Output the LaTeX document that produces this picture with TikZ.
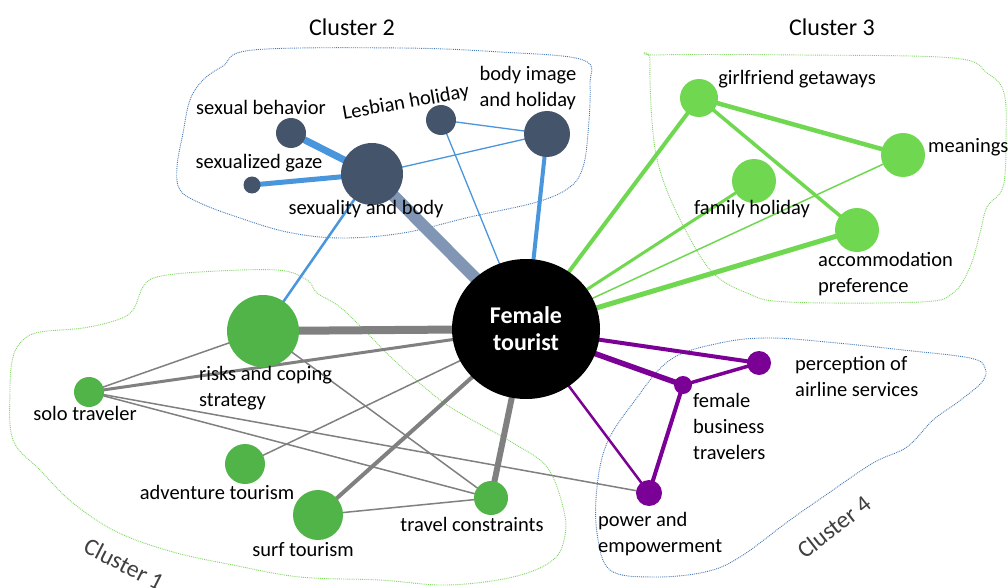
\documentclass[tikz,border=0pt]{standalone}
\usepackage{fontspec}
\setmainfont{Carlito}
\usetikzlibrary{shapes.geometric}
\definecolor{navy}{RGB}{68,84,106}
\definecolor{bluee}{RGB}{74,150,220}
\definecolor{steel}{RGB}{128,150,180}
\definecolor{lgreen}{RGB}{112,216,80}
\definecolor{dgreen}{RGB}{80,180,72}
\definecolor{greye}{RGB}{128,128,128}
\definecolor{purp}{RGB}{122,0,150}
\definecolor{outblue}{RGB}{70,120,180}
\definecolor{outgreen}{RGB}{125,215,95}
\definecolor{titlegray}{RGB}{64,64,64}
\begin{document}
\begin{tikzpicture}[x=1pt,y=-1pt,
  lbl/.style={font=\fontsize{20.5}{26}\selectfont, text=black, inner sep=0pt, align=left},
  ttl/.style={font=\fontsize{24}{28}\selectfont, text=titlegray, inner sep=0pt},
  dot/.style={circle, fill=#1, draw=none, inner sep=0pt},
  outl/.style={draw=#1, densely dotted, line width=0.9pt},
  be/.style={draw=bluee, line width=#1},
  ge/.style={draw=lgreen, line width=#1},
  pe/.style={draw=purp, line width=#1},
  ye/.style={draw=greye, line width=#1}]
\useasboundingbox (0,0) rectangle (1008,588);
\fill[white] (0,0) rectangle (1008,588);

% cluster outlines
\draw[outl=outblue] plot[smooth cycle, tension=0.6] coordinates {(253,50) (400,48) (500,52) (583,60) (590,85) (588,133) (583,167) (570,187) (537,202) (470,217) (403,233) (340,238) (287,232) (237,217) (200,203) (180,190) (177,167) (183,133) (190,100) (203,80) (223,66)};
\draw[outl=outgreen] plot[smooth cycle, tension=0.6] coordinates {(657,55) (800,55) (953,58) (987,73) (1004,93) (1006,140) (1003,187) (987,207) (980,233) (970,267) (953,293) (920,302) (787,302) (747,293) (713,273) (687,233) (663,180) (653,133) (650,60)};
\draw[outl=outgreen] plot[smooth cycle, tension=0.6] coordinates {(143,287) (157,277) (200,272) (277,270) (307,280) (317,293) (340,307) (367,333) (397,363) (440,400) (467,417) (513,443) (547,467) (563,507) (565,535) (553,560) (513,577) (447,585) (380,580) (300,577) (233,565) (173,552) (117,532) (73,503) (40,470) (13,440) (10,390) (13,357) (23,340) (40,332) (83,328) (117,320) (133,310)};
\draw[outl=outblue] plot[smooth cycle, tension=0.6] coordinates {(670,360) (720,343) (770,338) (837,343) (903,350) (970,358) (985,368) (982,382) (958,402) (933,420) (907,447) (873,463) (823,497) (790,520) (740,557) (705,572) (653,577) (610,570) (597,533) (597,487) (607,443) (633,403)};

% cluster titles
\node[ttl, text=black] (t2) at (352,27) {Cluster 2};
\node[ttl, text=black] (t3) at (832,27) {Cluster 3};
\node[ttl, rotate=-27] (t1) at (124,564) {Cluster 1};
\node[ttl, rotate=38] (t4) at (834,527) {Cluster 4};

% node positions
\coordinate (cft) at (526,329);
% cluster 2
\coordinate (c-sxb) at (372,174);
\coordinate (c-sbeh) at (291,133);
\coordinate (c-sgz) at (252,185);
\coordinate (c-lh) at (441,120);
\coordinate (c-bih) at (547,134);
% cluster 3
\coordinate (c-gg) at (699,98);
\coordinate (c-me) at (903,155);
\coordinate (c-fh) at (754,181);
\coordinate (c-ac) at (857,230);
% cluster 4
\coordinate (c-pa) at (759,363);
\coordinate (c-fb) at (683,385);
\coordinate (c-pe) at (649,493);
% cluster 1
\coordinate (c-rc) at (263,331);
\coordinate (c-st) at (89,392);
\coordinate (c-at) at (245,464);
\coordinate (c-su) at (318,515);
\coordinate (c-tc) at (491,498);

% edges: grey
\draw[ye=8] (c-rc) -- (cft);
\draw[ye=3] (c-st) -- (cft);
\draw[ye=1.5] (c-st) -- (c-rc);
\draw[ye=1.5] (c-st) -- (c-tc);
\draw[ye=1.5] (c-st) -- (c-pe);
\draw[ye=1.5] (c-rc) -- (c-tc);
\draw[ye=1.5] (c-at) -- (cft);
\draw[ye=4] (c-su) -- (cft);
\draw[ye=1.5] (c-su) -- (c-tc);
\draw[ye=6] (c-tc) -- (cft);
% blue
\draw[draw=steel, line width=12] (c-sxb) -- (cft);
\draw[be=7] (c-sbeh) -- (c-sxb);
\draw[be=5] (c-sgz) -- (c-sxb);
\draw[be=1.3] (c-sxb) -- (c-bih);
\draw[be=1.3] (c-lh) -- (c-bih);
\draw[be=1.3] (c-lh) -- (cft);
\draw[be=4] (c-bih) -- (cft);
\draw[be=2.5] (c-sxb) -- (c-rc);
% green
\draw[ge=4] (c-gg) -- (cft);
\draw[ge=4.5] (c-gg) -- (c-me);
\draw[ge=3.5] (c-gg) -- (c-ac);
\draw[ge=3] (c-fh) -- (cft);
\draw[ge=1.5] (c-me) -- (cft);
\draw[ge=5] (c-ac) -- (cft);
% purple
\draw[pe=4] (c-pa) -- (cft);
\draw[pe=5.5] (c-fb) -- (cft);
\draw[pe=3.5] (c-fb) -- (c-pa);
\draw[pe=4] (c-fb) -- (c-pe);
\draw[pe=2.5] (c-pe) -- (cft);

% nodes
\node[ellipse, fill=black, minimum width=148, minimum height=140, inner sep=0pt,
  font=\bfseries\fontsize{24}{27}\selectfont, text=white, align=center] (ft) at (cft) {Female\\tourist};
\node[dot=navy, minimum size=62] (sxb) at (c-sxb) {};
\node[dot=navy, minimum size=30] (sbeh) at (c-sbeh) {};
\node[dot=navy, minimum size=17] (sgz) at (c-sgz) {};
\node[dot=navy, minimum size=30] (lh) at (c-lh) {};
\node[dot=navy, minimum size=46] (bih) at (c-bih) {};
\node[dot=lgreen, minimum size=38] (gg) at (c-gg) {};
\node[dot=lgreen, minimum size=44] (me) at (c-me) {};
\node[dot=lgreen, minimum size=44] (fh) at (c-fh) {};
\node[dot=lgreen, minimum size=44] (ac) at (c-ac) {};
\node[dot=purp, minimum size=24] (pa) at (c-pa) {};
\node[dot=purp, minimum size=18] (fb) at (c-fb) {};
\node[dot=purp, minimum size=26] (pe) at (c-pe) {};
\node[dot=dgreen, minimum size=72] (rc) at (c-rc) {};
\node[dot=dgreen, minimum size=30] (st) at (c-st) {};
\node[dot=dgreen, minimum size=40] (at) at (c-at) {};
\node[dot=dgreen, minimum size=50] (su) at (c-su) {};
\node[dot=dgreen, minimum size=34] (tc) at (c-tc) {};

% labels
\node[lbl] (l-sbeh) at (261,107) {sexual behavior};
\node[lbl] (l-sgz) at (259,163) {sexualized gaze};
\node[lbl] (l-sxb) at (366,209) {sexuality and body};
\node[lbl, rotate=10] (l-lh) at (406,103) {Lesbian holiday};
\node[lbl] (l-bih) at (528,88) {body image\\and holiday};
\node[lbl] (l-gg) at (797,79) {girlfriend getaways};
\node[lbl, anchor=west] (l-me) at (928,147) {meanings};
\node[lbl] (l-fh) at (752,209) {family holiday};
\node[lbl, anchor=west] (l-ac) at (818,274) {accommodation\\preference};
\node[lbl, anchor=west] (l-pa) at (795,376) {perception of\\airline services};
\node[lbl, anchor=west] (l-fb) at (693,426) {female\\business\\travelers};
\node[lbl, anchor=west] (l-pe) at (598,534) {power and\\empowerment};
\node[lbl, anchor=west] (l-rc) at (199,388) {risks and coping\\strategy};
\node[lbl] (l-st) at (85,413) {solo traveler};
\node[lbl] (l-at) at (217,492) {adventure tourism};
\node[lbl] (l-su) at (303,550) {surf tourism};
\node[lbl] (l-tc) at (472,524) {travel constraints};
\end{tikzpicture}
\end{document}
